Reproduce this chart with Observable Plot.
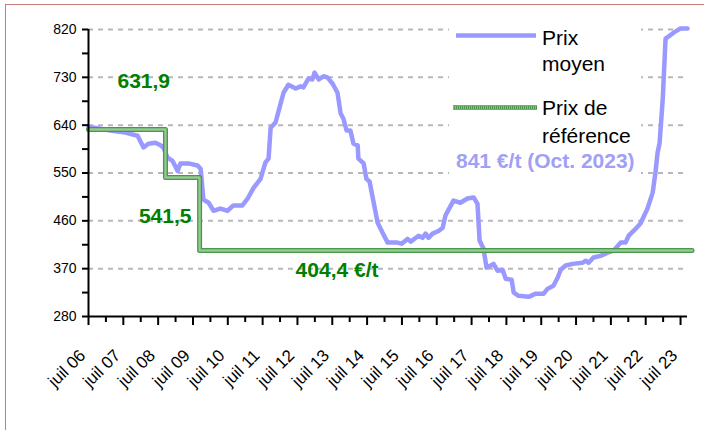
<!DOCTYPE html>
<html>
<head>
<meta charset="utf-8">
<script src="https://cdn.jsdelivr.net/npm/d3@7"></script>
<script src="https://cdn.jsdelivr.net/npm/@observablehq/plot@0.6"></script>
<style>
  html, body { margin: 0; padding: 0; background: #fff; }
  #wrap { position: relative; width: 704px; height: 430px; overflow: hidden; background: #fff; }
  #frame { position: absolute; left: 5px; top: 4px; width: 800px; height: 600px; border: 1px solid #c77b7b; box-sizing: border-box; }
  #chart { position: absolute; left: 0; top: 0; }
  #legend { position: absolute; left: 0; top: 0; pointer-events: none; }
</style>
</head>
<body>
<div id="wrap">
  <div id="frame"></div>
  <div id="chart"></div>
  <svg id="legend" width="704" height="430" font-family="Liberation Sans, Arial, sans-serif">
    <rect x="449" y="18" width="192" height="162" fill="#fff"></rect>
    <line x1="456" x2="536" y1="35.5" y2="35.5" stroke="#9999ff" stroke-width="4.5"></line>
    <line x1="453" x2="537" y1="107.5" y2="107.5" stroke="#4a964a" stroke-width="4.5"></line>
    <line x1="453" x2="537" y1="107.5" y2="107.5" stroke="#93c993" stroke-width="2.5" stroke-dasharray="1 1"></line>
    <text x="542" y="45" font-size="21" fill="#000">Prix</text>
    <text x="542" y="71" font-size="21" fill="#000">moyen</text>
    <text x="542" y="115" font-size="21" fill="#000">Prix de</text>
    <text x="542" y="143" font-size="21" fill="#000">référence</text>
    <text x="456" y="168" font-size="21" font-weight="bold" fill="#a0a0f5">841 €/t (Oct. 2023)</text>
  </svg>
</div>
<script>
const FONT = "Liberation Sans, Arial, sans-serif";

// Prix moyen (€/t); x in decimal years
const prixYears = [2006.50, 2007.13, 2007.56, 2007.91, 2008.08, 2008.22, 2008.42, 2008.57, 2008.65, 2008.77,
  2008.91, 2009.06, 2009.14, 2009.37, 2009.63, 2009.72, 2009.80, 2009.95, 2010.09, 2010.29,
  2010.49, 2010.66, 2010.92, 2011.07, 2011.24, 2011.44, 2011.58, 2011.67, 2011.73, 2011.87,
  2011.96, 2012.10, 2012.24, 2012.45, 2012.59, 2012.67, 2012.82, 2012.93, 2012.99, 2013.11,
  2013.25, 2013.36, 2013.51, 2013.65, 2013.74, 2013.82, 2013.91, 2014.02, 2014.11, 2014.23,
  2014.25, 2014.40, 2014.48, 2014.57, 2014.80, 2014.94, 2015.09, 2015.23, 2015.37, 2015.49,
  2015.66, 2015.75, 2015.98, 2016.09, 2016.18, 2016.26, 2016.38, 2016.55, 2016.67, 2016.75,
  2016.84, 2016.98, 2017.18, 2017.38, 2017.56, 2017.67, 2017.73, 2017.84, 2017.93, 2018.05,
  2018.13, 2018.25, 2018.39, 2018.48, 2018.65, 2018.71, 2018.85, 2019.14, 2019.34, 2019.57,
  2019.68, 2019.85, 2019.97, 2020.06, 2020.20, 2020.40, 2020.69, 2020.77, 2020.86, 2021.00,
  2021.20, 2021.41, 2021.58, 2021.78, 2021.92, 2022.01, 2022.15, 2022.35, 2022.55, 2022.70,
  2022.78, 2022.84, 2022.90, 2022.99, 2023.07, 2023.16, 2023.30, 2023.50, 2023.70];
const prixValues = [637, 630, 626, 620, 598, 605, 607, 602, 598, 579,
  573, 554, 568, 568, 564, 558, 500, 494, 479, 483,
  479, 489, 489, 502, 522, 539, 570, 577, 635, 645,
  667, 701, 716, 709, 713, 711, 728, 726, 739, 726,
  732, 730, 718, 701, 662, 652, 630, 630, 605, 602,
  577, 568, 539, 534, 457, 438, 419, 419, 419, 417,
  426, 421, 432, 428, 436, 428, 436, 441, 447, 470,
  481, 498, 494, 502, 504, 492, 423, 408, 372, 376,
  379, 366, 368, 351, 349, 325, 319, 317, 323, 323,
  332, 338, 353, 368, 376, 379, 381, 385, 381, 391,
  394, 400, 404, 419, 419, 432, 441, 455, 483, 513,
  551, 588, 607, 690, 803, 807, 814, 822, 822];

// Prix de référence (step starts)
const refYears = [2006.5, 2008.71, 2009.69, 2023.83];
const refValues = [631.9, 541.5, 404.4, 404.4];
const refLabels = ["631,9", "541,5", "404,4 €/t"];

// Axes
const yMajor = [280, 370, 460, 550, 640, 730, 820];
const yMinor = [325, 415, 505, 595, 685, 775];
const xMajor = [2006.5, 2007.5, 2008.5, 2009.5, 2010.5, 2011.5, 2012.5, 2013.5, 2014.5,
  2015.5, 2016.5, 2017.5, 2018.5, 2019.5, 2020.5, 2021.5, 2022.5, 2023.5];
const xMinor = [2007, 2008, 2009, 2010, 2011, 2012, 2013, 2014, 2015, 2016, 2017, 2018,
  2019, 2020, 2021, 2022, 2023];
const xLabels = ["juil 06", "juil 07", "juil 08", "juil 09", "juil 10", "juil 11", "juil 12",
  "juil 13", "juil 14", "juil 15", "juil 16", "juil 17", "juil 18", "juil 19", "juil 20",
  "juil 21", "juil 22", "juil 23"];

const prix = prixYears.map((x, i) => ({x, v: prixValues[i]}));
const ref = refYears.map((x, i) => ({x, v: refValues[i], label: refLabels[i]}));

const PURPLE = "#9999ff";
const GREEN_TXT = "#008000";

const labelStyle = {x: "x", y: "v", text: "label", fill: GREEN_TXT, fontWeight: "bold", fontSize: 21, fontFamily: FONT};

const chart = Plot.plot({
  width: 704,
  height: 430,
  marginLeft: 88,
  marginRight: 17,
  marginTop: 29,
  marginBottom: 114,
  x: {domain: [2006.5, 2023.7]},
  y: {domain: [280, 820]},
  style: {fontFamily: FONT, fontSize: "14px", color: "#000", background: "transparent", overflow: "visible"},
  marks: [
    Plot.ruleY(yMajor.filter(d => d > 280), {stroke: "#b8b8b8", strokeWidth: 2, strokeDasharray: "5 5"}),
    Plot.line(prix, {x: "x", y: "v", stroke: PURPLE, strokeWidth: 4.5, strokeLinejoin: "round", strokeLinecap: "round"}),
    Plot.line(ref, {x: "x", y: "v", curve: "step-after", stroke: "#4a964a", strokeWidth: 5}),
    Plot.line(ref, {x: "x", y: "v", curve: "step-after", stroke: "#93c993", strokeWidth: 2.5, strokeDasharray: "1 1"}),
    Plot.ruleX([2006.5], {stroke: "#000", strokeWidth: 2}),
    Plot.ruleY([280], {stroke: "#000", strokeWidth: 2}),
    Plot.axisY(yMinor, {tickSize: 6, tickFormat: () => "", strokeWidth: 2, label: null}),
    Plot.axisY(yMajor, {tickSize: 6, tickPadding: 6, fontSize: 14, strokeWidth: 2, label: null, tickFormat: d => String(d)}),
    Plot.axisX(xMinor, {tickSize: 6, tickFormat: () => "", strokeWidth: 2, label: null}),
    Plot.axisX(xMajor, {tickSize: 9, tickFormat: () => "", strokeWidth: 2, label: null}),
    Plot.text(xMajor, {x: d => d, text: (d, i) => xLabels[i], frameAnchor: "bottom", rotate: -45,
      textAnchor: "end", lineAnchor: "bottom", dx: -2, dy: 40, fontSize: 17, fill: "#000"}),
    Plot.text(ref.slice(0, 1), {...labelStyle, textAnchor: "start", dx: 29, dy: -48}),
    Plot.text(ref.slice(1, 2), {...labelStyle, textAnchor: "end", dx: 26, dy: 39}),
    Plot.text(ref.slice(2, 3), {...labelStyle, textAnchor: "start", dx: 96, dy: 20})
  ]
});
document.getElementById("chart").appendChild(chart);
</script>
</body>
</html>
